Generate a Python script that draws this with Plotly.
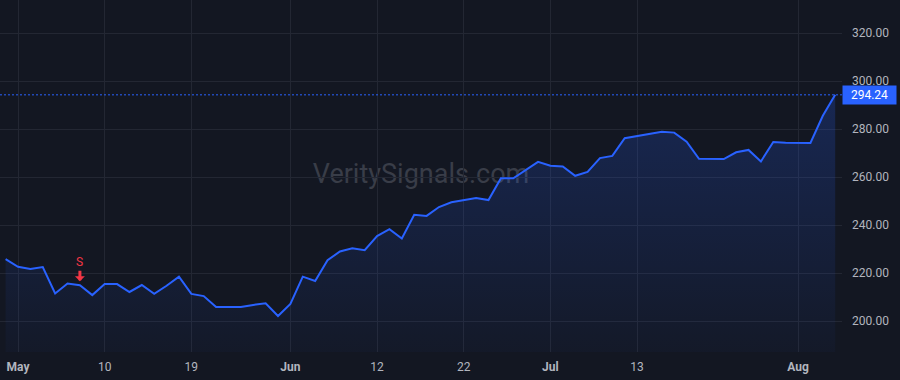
import pandas as pd
import plotly.graph_objects as go

# ---- data ----
holidays = ["2023-05-29", "2023-06-19", "2023-07-04"]
dates = [d.strftime("%Y-%m-%d") for d in pd.bdate_range("2023-04-28", "2023-08-04")
         if d.strftime("%Y-%m-%d") not in holidays]

prices = [225.8, 222.6, 221.7, 222.5, 211.5, 215.6, 214.9, 210.8, 215.4, 215.4,
          212.1, 215.0, 211.3, 214.7, 218.5, 211.3, 210.4, 205.8, 205.8, 205.8,
          206.7, 207.4, 202.1, 207.1, 218.5, 216.7, 225.3, 229.0, 230.3, 229.5,
          235.4, 238.3, 234.4, 244.3, 243.8, 247.5, 249.5, 250.4, 251.3, 250.4,
          259.5, 259.5, 262.9, 266.3, 264.7, 264.4, 260.5, 262.1, 267.9, 268.8,
          276.2, 277.2, 278.0, 278.9, 278.5, 274.7, 267.6, 267.4, 267.5, 270.3,
          271.3, 266.5, 274.6, 274.3, 274.2, 274.2, 285.5, 294.24]

tick_dates = ["2023-05-01", "2023-05-10", "2023-05-19", "2023-06-01", "2023-06-12",
              "2023-06-22", "2023-07-03", "2023-07-13", "2023-08-01"]
tick_labels = ["<b>May</b>", "10", "19", "<b>Jun</b>", "12", "22", "<b>Jul</b>", "13", "<b>Aug</b>"]

y_ticks = [200, 220, 240, 260, 280, 300, 320]

signal_date = "2023-05-08"
signal_text = "S"
watermark = "VeritySignals.com"

# ---- style ----
BG = "#131722"
GRID = "#232733"
BLUE = "#2962ff"
RED = "#f23645"
TXT = "#b2b5be"
Y_MIN, Y_MAX = 187.1, 333.75

fig = go.Figure()
fig.add_trace(go.Scatter(
    x=dates, y=prices, mode="lines",
    line=dict(color=BLUE, width=2),
    fill="tozeroy",
    fillgradient=dict(type="vertical",
                      colorscale=[[0, "rgba(41,98,255,0.03)"], [1, "rgba(41,98,255,0.22)"]],
                      start=Y_MIN, stop=max(prices)),
    hoverinfo="skip", showlegend=False,
))

last = prices[-1]
fig.add_shape(type="line", xref="paper", x0=0, x1=1, yref="y", y0=last, y1=last,
              line=dict(color=BLUE, width=1, dash="2px,2px"))

fig.add_annotation(xref="paper", x=1, xanchor="left", yref="y", y=last,
                   text=f"{last:.2f}", showarrow=False,
                   font=dict(family="Roboto", size=12, color="#ffffff"),
                   bgcolor=BLUE, borderpad=2, width=49, align="center")

sig_idx = dates.index(signal_date)
fig.add_annotation(x=signal_date, y=prices[sig_idx], text=signal_text,
                   showarrow=True, ax=0, ay=-23, standoff=4,
                   arrowhead=1, arrowwidth=3, arrowsize=0.55, arrowcolor=RED,
                   font=dict(family="Roboto", size=12, color=RED))

fig.add_shape(type="rect", xref="paper", yref="paper", x0=0.3, x1=0.7, y0=0.45, y1=0.57,
              layer="below", line=dict(width=0), fillcolor="rgba(0,0,0,0)",
              label=dict(text=watermark, font=dict(family="Roboto", size=27, color="#393d48"),
                         textposition="middle center"))

fig.update_layout(
    width=900, height=380,
    margin=dict(l=0, r=58, t=0, b=28),
    paper_bgcolor=BG, plot_bgcolor=BG,
    font=dict(family="Roboto", size=12, color=TXT),
    xaxis=dict(type="category", range=[-0.454, 67.55],
               tickmode="array", tickvals=tick_dates, ticktext=tick_labels,
               showgrid=True, gridcolor=GRID, gridwidth=1,
               showline=False, zeroline=False, ticks="", ticklabelstandoff=6,
               tickfont=dict(family="Roboto", size=12, color=TXT)),
    yaxis=dict(side="right", range=[Y_MIN, Y_MAX],
               tickmode="array", tickvals=y_ticks, tickformat=".2f",
               showgrid=True, gridcolor=GRID, gridwidth=1,
               showline=False, zeroline=False, ticks="", ticklabelstandoff=9,
               tickfont=dict(family="Roboto", size=12, color=TXT)),
)

fig.write_html("out.html")
